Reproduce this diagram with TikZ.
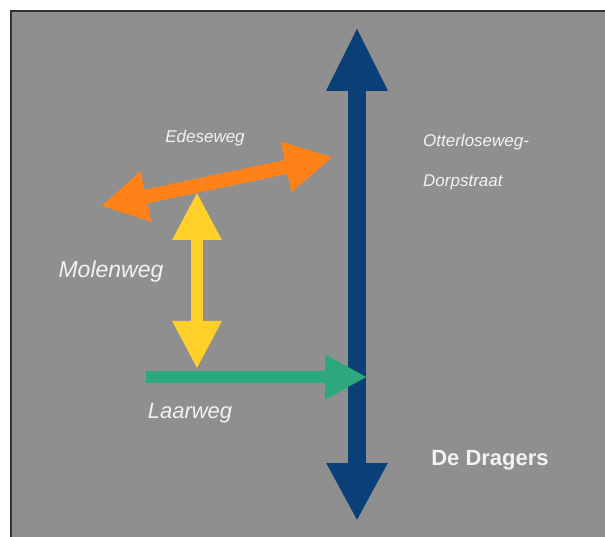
\documentclass[tikz,border=0pt]{standalone}
\usepackage{fontspec}
\setmainfont{Liberation Sans}
\usetikzlibrary{arrows.meta}
\definecolor{bgrey}{HTML}{8F8F8F}
\definecolor{navy}{HTML}{0B3F78}
\definecolor{roadorange}{HTML}{FF8218}
\definecolor{roadyellow}{HTML}{FFD02A}
\definecolor{roadgreen}{HTML}{2BA87C}
\definecolor{labelwhite}{HTML}{F2F2F2}
\begin{document}
\begin{tikzpicture}[
    x=1pt, y=-1pt,
    label/.style={text=labelwhite,font=\itshape,inner sep=0pt},
    road/.style={line cap=butt}
]
    \useasboundingbox (0,0) rectangle (605,537);
    % Background
    \fill[white] (0,0) rectangle (605,537);
    \fill[bgrey] (11,11) rectangle (607,539);
    \draw[black!80,line width=2pt] (11,539) -- (11,11) -- (607,11);

    % End points
    \coordinate (north) at (357,27);
    \coordinate (south) at (357,521);
    \coordinate (ewest) at (101,206);
    \coordinate (eeast) at (333,157);
    \coordinate (mtop) at (197,192);
    \coordinate (mbot) at (197,369);
    \coordinate (lwest) at (146,377);
    \coordinate (least) at (367,377);

    % Roads
    \draw[road,navy,line width=18pt,
        {Triangle[length=64pt,width=57pt]}-{Triangle[length=58pt,width=57pt]}]
        (north) -- (south);
    \draw[road,roadyellow,line width=12pt,
        {Triangle[length=48pt,width=46pt]}-{Triangle[length=48pt,width=46pt]}]
        (mtop) -- (mbot);
    \draw[road,roadorange,line width=14pt,
        {Triangle[length=46pt,width=48pt]}-{Triangle[length=48pt,width=48pt]}]
        (ewest) -- (eeast);
    \draw[road,roadgreen,line width=12pt,
        -{Triangle[length=42pt,width=42pt]}]
        (lwest) -- (least);

    % Labels
    \node[label,font=\itshape\fontsize{17}{20}\selectfont] (edeseweg) at (205,138) {Edeseweg};
    \node[label,font=\itshape\fontsize{17}{20}\selectfont,anchor=west] (otterlo) at (423,142) {Otterloseweg-};
    \node[label,font=\itshape\fontsize{17}{20}\selectfont,anchor=west] (dorp) at (423,182) {Dorpstraat};
    \node[label,font=\itshape\fontsize{23}{26}\selectfont] (molenweg) at (111,272) {Molenweg};
    \node[label,font=\itshape\fontsize{22}{26}\selectfont] (laarweg) at (190,413) {Laarweg};
    \node[label,font=\bfseries\fontsize{22}{26}\selectfont] (dragers) at (490,460) {De Dragers};
\end{tikzpicture}
\end{document}
